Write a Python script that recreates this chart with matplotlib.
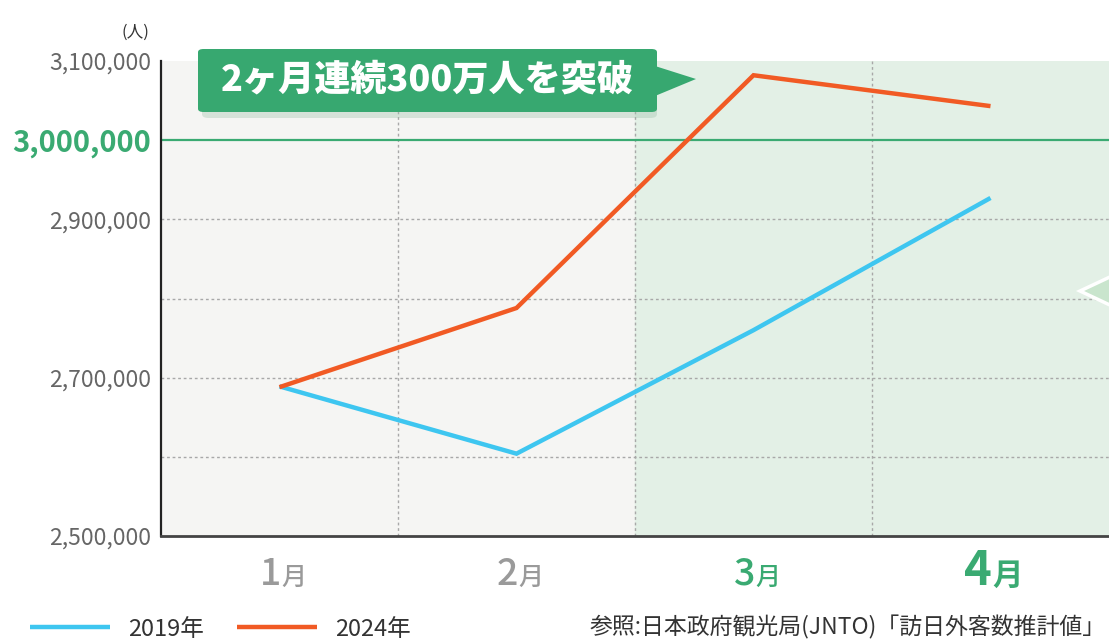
import matplotlib
matplotlib.use("Agg")
import matplotlib.pyplot as plt
from matplotlib.patches import FancyBboxPatch, Polygon

plt.rcParams['font.family'] = ['Noto Sans CJK JP', 'DejaVu Sans']

# ---- data ----
months = ["1", "2", "3", "4"]
month_suffix = "月"
visitors_2019 = [2689000, 2604000, 2760000, 2927000]
visitors_2024 = [2688000, 2788000, 3082000, 3043000]
series_labels = ["2019年", "2024年"]
ytick_values = [2500000, 2700000, 2900000, 3000000, 3100000]
ytick_labels = ["2,500,000", "2,700,000", "2,900,000", "3,000,000", "3,100,000"]
grid_values = [2600000, 2700000, 2800000, 2900000]
threshold = 3000000
callout_text = "2ヶ月連続300万人を突破"
unit_text = "(人)"
source_text = "参照:日本政府観光局(JNTO)「訪日外客数推計値」"

W, H = 1109, 641
fig = plt.figure(figsize=(W / 100, H / 100), dpi=100)

def fx(px):
    return px / W

def fy(py):
    return 1 - py / H

ax = fig.add_axes([fx(161), fy(536), fx(1109) - fx(161), fy(61) - fy(536)])
ax.set_xlim(-0.5, 3.5)
ax.set_ylim(2500000, 3100000)
ax.set_facecolor("#f5f5f3")
ax.axvspan(1.5, 3.5, color="#e3f0e6", zorder=0)

for v in grid_values:
    ax.axhline(v, color="#a8a8a8", lw=1, ls=(0, (2, 2)), zorder=1)
for xv in [0.5, 1.5, 2.5]:
    ax.axvline(xv, color="#a8a8a8", lw=1, ls=(0, (2, 2)), zorder=1)
ax.axhline(threshold, color="#3aaa72", lw=1.6, zorder=2)

x = list(range(len(months)))
ax.plot(x, visitors_2019, color="#3ec6f0", lw=3.2, label=series_labels[0], zorder=3,
        solid_capstyle="butt", solid_joinstyle="miter")
ax.plot(x, visitors_2024, color="#f15a24", lw=3.2, label=series_labels[1], zorder=3,
        solid_capstyle="butt", solid_joinstyle="miter")

for s in ["top", "right"]:
    ax.spines[s].set_visible(False)
ax.spines["left"].set_color("#222222")
ax.spines["left"].set_linewidth(1.6)
ax.spines["bottom"].set_color("#444444")
ax.spines["bottom"].set_linewidth(2.0)

ax.set_yticks(ytick_values)
ax.set_yticklabels(ytick_labels)
ax.tick_params(axis="y", length=0, pad=7, labelsize=16.5, labelcolor="#666666")
for lab, v in zip(ax.get_yticklabels(), ytick_values):
    if v == threshold:
        lab.set_color("#3aaa72")
        lab.set_fontweight("bold")
        lab.set_fontsize(21)
ax.set_xticks(x)
ax.set_xticklabels([""] * len(x))
ax.tick_params(axis="x", length=0)

# month labels
month_styles = [
    dict(color="#9a9a9a", weight="medium", dsize=27, msize=18),
    dict(color="#9a9a9a", weight="medium", dsize=27, msize=18),
    dict(color="#3aaa72", weight="medium", dsize=27, msize=18),
    dict(color="#3aaa72", weight="bold", dsize=34, msize=22),
]
for xi, m, st in zip(x, months, month_styles):
    ax.annotate(m, xy=(xi, 0), xycoords=("data", "axes fraction"),
                xytext=(1, -35), textcoords="offset points",
                ha="right", va="baseline", fontsize=st["dsize"],
                color=st["color"], fontweight=st["weight"])
    ax.annotate(month_suffix, xy=(xi, 0), xycoords=("data", "axes fraction"),
                xytext=(1, -35), textcoords="offset points",
                ha="left", va="baseline", fontsize=st["msize"],
                color=st["color"], fontweight=st["weight"])

# unit
fig.text(fx(149), fy(32), unit_text, ha="right", va="center", fontsize=12, color="#333333")

# callout with shadow
shadow = FancyBboxPatch((fx(202), fy(118)), fx(657) - fx(202), fy(56) - fy(118),
                        boxstyle="round,pad=0,rounding_size=0.006",
                        transform=fig.transFigure, facecolor="#9bbfa8", alpha=0.35,
                        edgecolor="none", zorder=9)
fig.patches.append(shadow)
box = FancyBboxPatch((fx(198), fy(112)), fx(657) - fx(198), fy(49) - fy(112),
                     boxstyle="round,pad=0,rounding_size=0.005",
                     transform=fig.transFigure, facecolor="#37a870", edgecolor="none",
                     zorder=10)
fig.patches.append(box)
tri = Polygon([(fx(655), fy(66)), (fx(696), fy(79)), (fx(655), fy(96))],
              closed=True, transform=fig.transFigure, facecolor="#37a870",
              edgecolor="none", zorder=10)
fig.patches.append(tri)
fig.text(fx(427), fy(80), callout_text, ha="center", va="center", fontsize=26,
         fontweight="heavy", color="white", zorder=11)

# partial callout at right edge
tri2 = Polygon([(fx(1080), fy(291)), (fx(1112), fy(276)), (fx(1112), fy(306))],
               closed=True, transform=fig.transFigure, facecolor="#c9e5cd",
               edgecolor="white", lw=2.5, zorder=10)
fig.patches.append(tri2)

# legend
fig.legend(loc="center left", bbox_to_anchor=(fx(30), fy(629)), ncol=2, frameon=False,
           fontsize=17, handlelength=3.4, handletextpad=0.75, columnspacing=1.4,
           labelcolor="#333333", borderaxespad=0, borderpad=0)

fig.text(fx(1106), fy(627), source_text, ha="right", va="center", fontsize=16.5,
         color="#333333")

fig.savefig("out.png", dpi=100)
